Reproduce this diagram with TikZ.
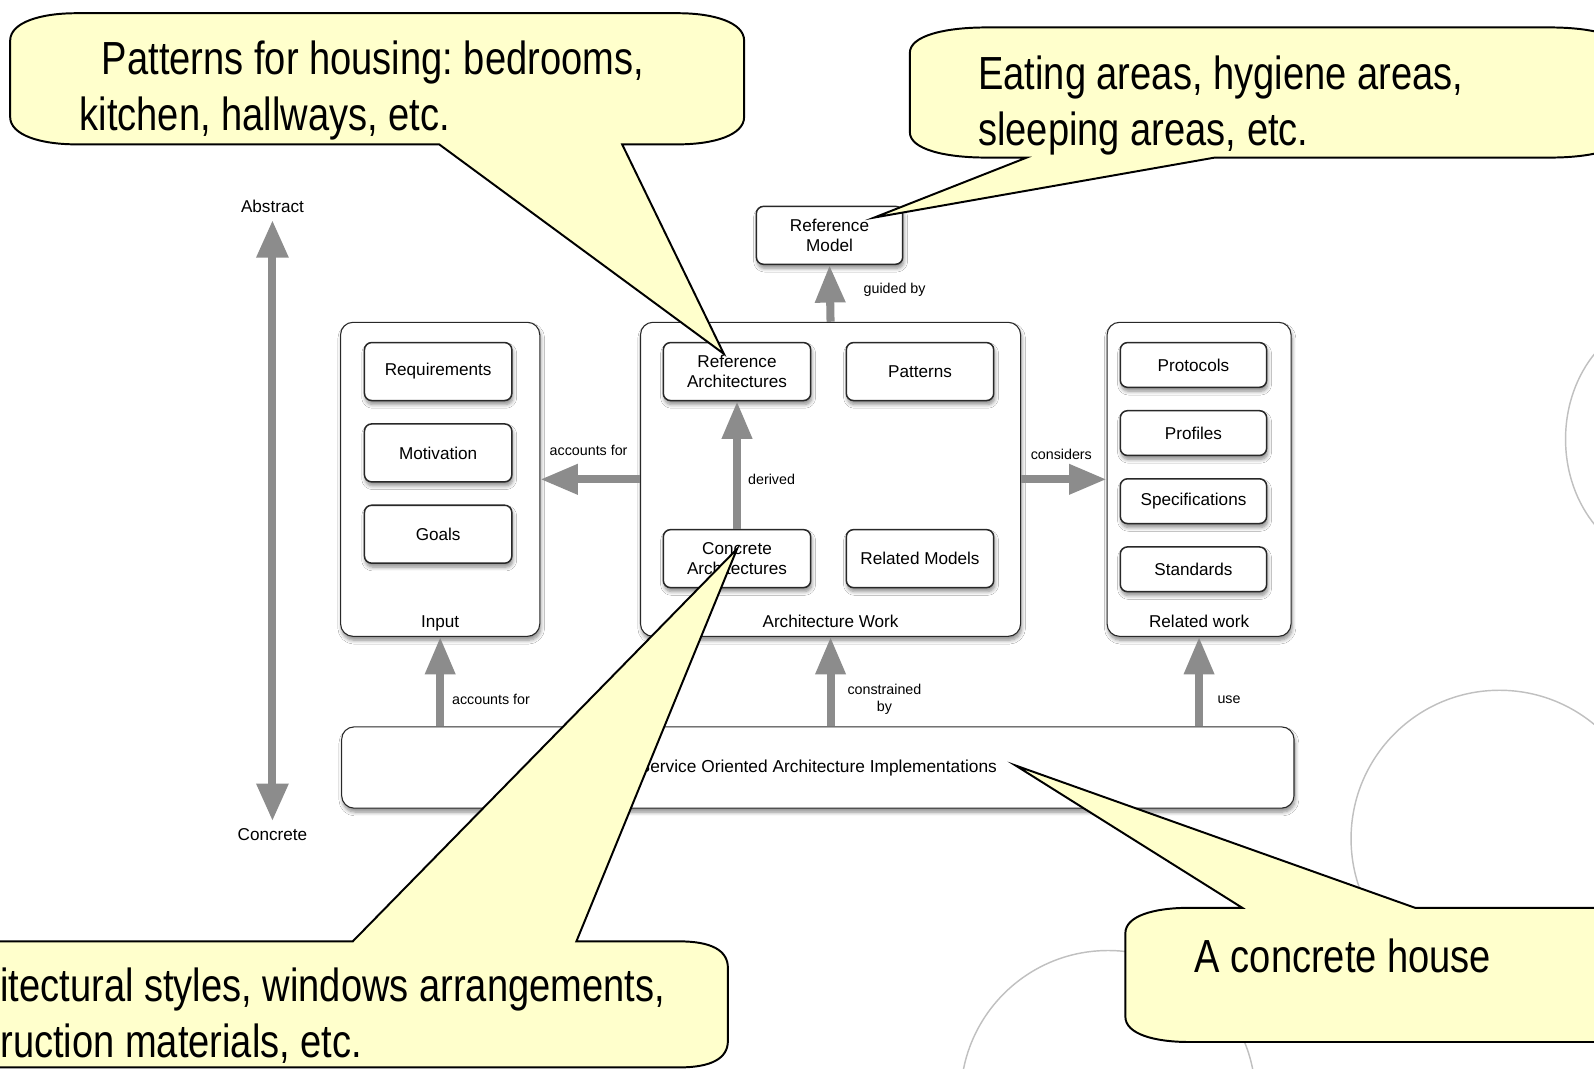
\documentclass[tikz,border=0pt]{standalone}
\usepackage{fontspec}
\setmainfont{Liberation Sans}
\newfontfamily\callfont[FakeStretch=0.82]{Liberation Sans}
\usetikzlibrary{arrows.meta,shadows.blur}
\definecolor{arrowgray}{RGB}{140,140,140}
\definecolor{calloutfill}{RGB}{255,255,204}
\definecolor{circlegray}{RGB}{192,192,192}
\definecolor{boxline}{RGB}{40,40,40}
\frenchspacing
\begin{document}
\begin{tikzpicture}[x=0.02cm,y=-0.02cm,
  shadowed/.style={blur shadow={shadow xshift=0.6pt,shadow yshift=-2.2pt,shadow blur steps=6,shadow opacity=45}},
  container/.style={draw=boxline,line width=0.6pt,rounded corners=7pt,fill=white,shadowed},
  item/.style={draw=boxline,line width=0.85pt,rounded corners=4pt,fill=white,shadowed,font=\fontsize{9.6}{11.4}\selectfont,align=center,inner sep=0pt},
  bigitem/.style={item,minimum width=2.9cm,minimum height=1.14cm},
  smallitem/.style={item,minimum width=2.88cm,minimum height=0.88cm},
  lbl/.style={font=\fontsize{9.6}{11.4}\selectfont,inner xsep=0pt,inner ysep=4pt},
  note/.style={font=\fontsize{8}{9.6}\selectfont,align=center,inner sep=0pt},
  fat/.style={draw=arrowgray,line width=4.5pt,-{Triangle[width=16pt,length=21pt]}},
  fatboth/.style={draw=arrowgray,line width=4.5pt,{Triangle[width=17pt,length=21pt]}-{Triangle[width=17pt,length=21pt]}},
  callout/.style={draw=black,line width=1.1pt,fill=calloutfill,line join=miter},
  calltext/.style={font=\callfont\fontsize{26}{31}\selectfont\frenchspacing,inner sep=0pt,align=left},
  ring/.style={draw=circlegray,line width=0.8pt}
]
\useasboundingbox (0,0) rectangle (1568,1051);
\clip (0,0) rectangle (1568,1051);
\fill[white] (0,0) rectangle (1568,1051);

% background rings
\draw[ring] (1640,432) ellipse [x radius=100, y radius=120];
\draw[ring] (1475,825) circle [radius=146];
\draw[ring] (1090,1080) circle [radius=145];

% abstract / concrete axis
\node[lbl] (abstract) at (268,203) {Abstract};
\node[lbl] (concrete) at (268,821) {Concrete};
\draw[fatboth] (abstract) -- (concrete);

% reference model
\node[bigitem,minimum width=2.88cm] (refmodel) at (816,231.5) {Reference\\Model};

% containers
\node[container,minimum width=3.92cm,minimum height=6.18cm] (input) at (433,471.5) {};
\node[container,minimum width=7.48cm,minimum height=6.18cm] (archwork) at (817,471.5) {};
\node[container,minimum width=3.62cm,minimum height=6.18cm] (relwork) at (1179.5,471.5) {};
\node[lbl,inner sep=0pt,anchor=base] (inputlbl) at ([yshift=5.2pt]input.south) {Input};
\node[lbl,inner sep=0pt,anchor=base] (archlbl) at ([yshift=5.2pt]archwork.south) {Architecture Work};
\node[lbl,inner sep=0pt,anchor=base] (rellbl) at ([yshift=5.2pt]relwork.south) {Related work};

% inner boxes
\node[bigitem] (req) at (431,365.5) {Requirements};
\node[bigitem] (mot) at (431,445.5) {Motivation};
\node[bigitem] (goals) at (431,525.5) {Goals};
\node[bigitem] (refarch) at (725,365.5) {Reference\\Architectures};
\node[bigitem] (patterns) at (905,365.5) {Patterns};
\node[bigitem] (concarch) at (725,549.5) {Concrete\\Architectures};
\node[bigitem] (relmodels) at (905,549.5) {Related Models};
\node[smallitem] (protocols) at (1174,359) {Protocols};
\node[smallitem] (profiles) at (1174,426) {Profiles};
\node[smallitem] (specs) at (1174,493) {Specifications};
\node[smallitem] (standards) at (1174,560) {Standards};

% implementations
\node[container,minimum width=18.74cm,minimum height=1.6cm,font=\fontsize{9.7}{11}\selectfont] (soa) at (804.5,755) {Service Oriented Architecture Implementations};

% arrows
\draw[fat] (archwork.north) -- (refmodel.south);
\draw[fat] (archwork.west) -- (input.east);
\draw[fat] (archwork.east) -- (relwork.west);
\draw[fat] (concarch.north) -- (refarch.south);
\draw[fat] (input.south |- soa.north) -- (input.south);
\draw[fat] (archwork.south |- soa.north) -- (archwork.south);
\draw[fat] (relwork.south |- soa.north) -- (relwork.south);

% arrow labels
\node[note] (nguided) at (880,285) {guided by};
\node[note] (nacc1) at (579,443) {accounts for};
\node[note] (nderived) at (759,472) {derived};
\node[note] (nconsiders) at (1044,447) {considers};
\node[note] (nacc2) at (483,688) {accounts for};
\node[note] (nconstr) at (870,688) {constrained\\by};
\node[note] (nuse) at (1209,688) {use};

% callouts
\path[callout] (10,40) .. controls (10,22) and (40,13) .. (75,13) -- (667,13)
  .. controls (702,13) and (732,22) .. (732,40) -- (732,115)
  .. controls (732,133) and (702,142) .. (667,142) -- (612,142) -- (712,348) -- (432,142)
  -- (75,142) .. controls (40,142) and (10,133) .. (10,115) -- cycle;
\node[calltext,anchor=north west] (t1) at (78,40) {\hspace*{12.5pt}Patterns for housing: bedrooms,\\kitchen, hallways, etc.};

\path[callout] (895,52) .. controls (895,35) and (930,27) .. (970,27) -- (1525,27)
  .. controls (1565,27) and (1600,35) .. (1600,52) -- (1600,130)
  .. controls (1600,147) and (1565,155) .. (1525,155) -- (1195,155) -- (860,214) -- (1010,155)
  -- (970,155) .. controls (930,155) and (895,147) .. (895,130) -- cycle;
\node[calltext,anchor=north west] (t2) at (962,55) {Eating areas, hygiene areas,\\sleeping areas, etc.};

\path[callout] (-60,926) -- (347,926) -- (725,540) -- (567,926) -- (668,926)
  .. controls (700,926) and (716,935) .. (716,952) -- (716,1024)
  .. controls (716,1041) and (700,1050) .. (668,1050) -- (-60,1050) -- cycle;
\node[calltext,anchor=north west] (t3) at (0,952) {itectural styles, windows arrangements,\\ruction materials, etc.};

\path[callout] (1107,918) .. controls (1107,901) and (1135,893) .. (1170,893) -- (1222,893)
  -- (999,753) -- (1392,893) -- (1620,893) -- (1620,1025) -- (1170,1025)
  .. controls (1135,1025) and (1107,1017) .. (1107,1000) -- cycle;
\node[calltext,anchor=base west] (t4) at (1175,957) {A concrete house};
\end{tikzpicture}
\end{document}
